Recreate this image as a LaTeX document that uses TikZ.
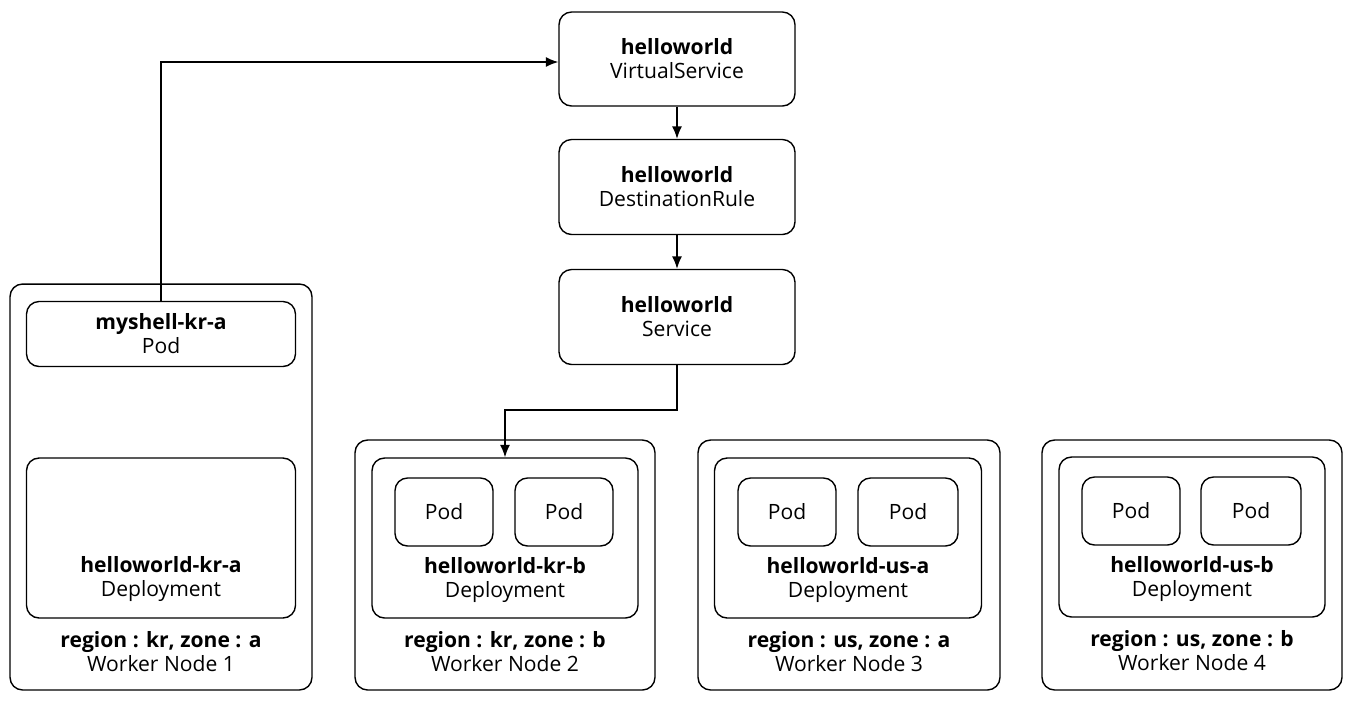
\documentclass[tikz,border=0pt]{standalone}
\usepackage{fontspec}
\setmainfont{Open Sans}
\usetikzlibrary{positioning,arrows.meta}
\tikzset{
  box/.style={draw, thick, rounded corners=0.25cm, inner sep=0pt},
  txt/.style={align=center, font=\fontsize{12}{13.6}\selectfont},
  arr/.style={-{Latex[length=0.25cm,width=0.2cm]}, thick}
}
\begin{document}
\begin{tikzpicture}[x=0.02cm, y=-0.02cm]
        \useasboundingbox (0,0) rectangle (1352,701);

        % Istio objects
        \node[box, minimum width=4.72cm, minimum height=1.88cm, txt] (vs) at (677,59) {\textbf{helloworld}\\VirtualService};
        \node[box, minimum width=4.72cm, minimum height=1.9cm, txt] (dr) at (677,187) {\textbf{helloworld}\\DestinationRule};
        \node[box, minimum width=4.72cm, minimum height=1.9cm, txt] (svc) at (677,317) {\textbf{helloworld}\\Service};

        % Worker node 1
        \node[box, minimum width=6.04cm, minimum height=8.12cm] (wn1) at (161,487) {};
        \node[box, minimum width=5.38cm, minimum height=1.3cm, txt] (shell) at (161,334) {\textbf{myshell-kr-a}\\Pod};
        \node[box, minimum width=5.38cm, minimum height=3.2cm] (dep1) at (161,538) {};
        \node[txt] (dep1t) at (161,579) {\textbf{helloworld-kr-a}\\Deployment};
        \node[txt] (wn1t) at (161,652) {\textbf{region : kr, zone : a}\\Worker Node 1};

        % Worker node 2
        \node[box, minimum width=6cm, minimum height=5cm] (wn2) at (505,565) {};
        \node[box, minimum width=5.32cm, minimum height=3.2cm] (dep2) at (505,538) {};
        \node[box, minimum width=1.96cm, minimum height=1.36cm, txt] (pod2a) at (444,512) {Pod};
        \node[box, minimum width=1.96cm, minimum height=1.36cm, txt] (pod2b) at (564,512) {Pod};
        \node[txt] (dep2t) at (505,580) {\textbf{helloworld-kr-b}\\Deployment};
        \node[txt] (wn2t) at (505,652) {\textbf{region : kr, zone : b}\\Worker Node 2};

        % Worker node 3
        \node[box, minimum width=6.04cm, minimum height=5cm] (wn3) at (849,565) {};
        \node[box, minimum width=5.34cm, minimum height=3.2cm] (dep3) at (848,538) {};
        \node[box, minimum width=1.96cm, minimum height=1.36cm, txt] (pod3a) at (787,512) {Pod};
        \node[box, minimum width=2cm, minimum height=1.36cm, txt] (pod3b) at (908,512) {Pod};
        \node[txt] (dep3t) at (848,580) {\textbf{helloworld-us-a}\\Deployment};
        \node[txt] (wn3t) at (849,652) {\textbf{region : us, zone : a}\\Worker Node 3};

        % Worker node 4
        \node[box, minimum width=6cm, minimum height=5cm] (wn4) at (1192,565) {};
        \node[box, minimum width=5.32cm, minimum height=3.2cm] (dep4) at (1192,537) {};
        \node[box, minimum width=1.96cm, minimum height=1.36cm, txt] (pod4a) at (1131,511) {Pod};
        \node[box, minimum width=2cm, minimum height=1.36cm, txt] (pod4b) at (1251,511) {Pod};
        \node[txt] (dep4t) at (1192,579) {\textbf{helloworld-us-b}\\Deployment};
        \node[txt] (wn4t) at (1192,651) {\textbf{region : us, zone : b}\\Worker Node 4};

        % Traffic
        \coordinate (c1) at (161,62);
        \coordinate (c2) at (677,410);
        \coordinate (c3) at (505,410);
        \draw[arr] (shell.north) -- (c1) -- (vs.west |- c1);
        \draw[arr] (vs) -- (dr);
        \draw[arr] (dr) -- (svc);
        \draw[arr] (svc.south) -- (c2) -- (c3) -- (dep2.north);
\end{tikzpicture}
\end{document}
